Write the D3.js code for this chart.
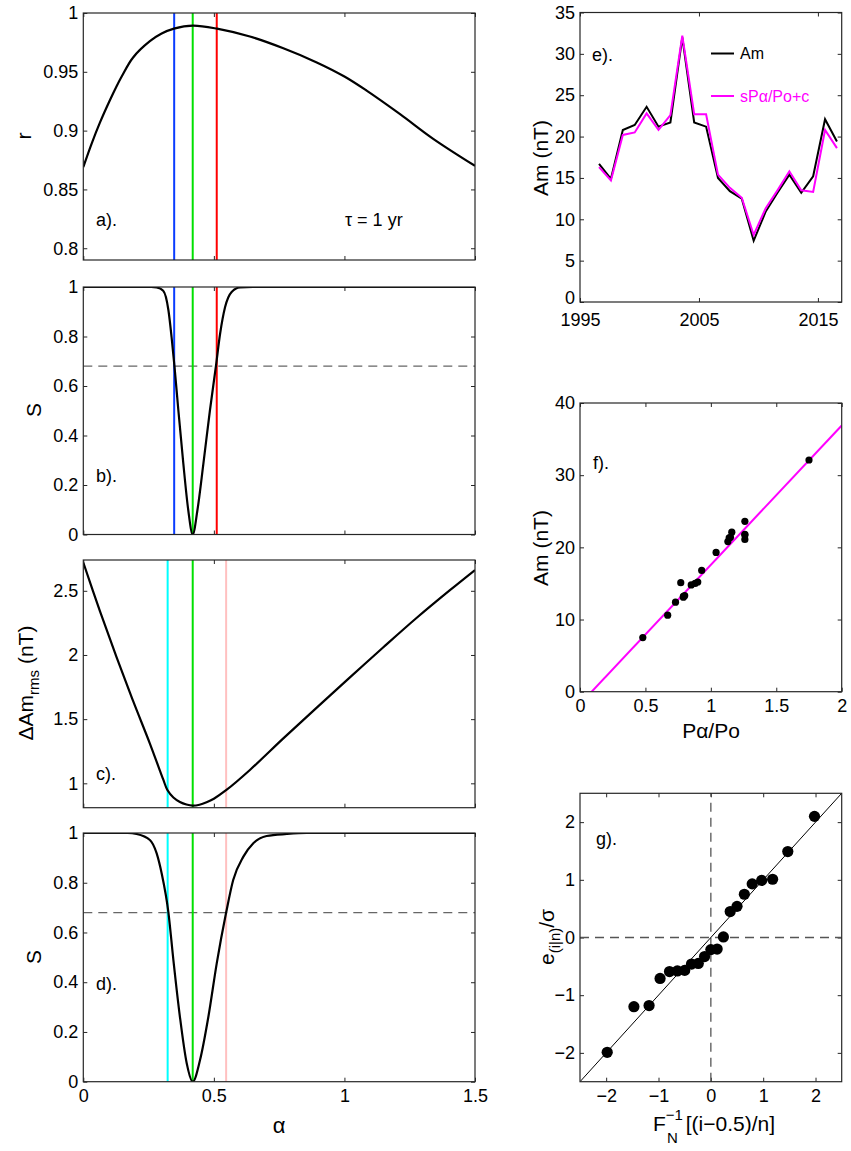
<!DOCTYPE html>
<html>
<head>
<meta charset="utf-8">
<script src="https://cdn.jsdelivr.net/npm/d3@7"></script>
<style>
  html, body { margin: 0; padding: 0; background: #fff; }
  svg { display: block; font-family: "Liberation Sans", Arial, sans-serif; }
</style>
</head>
<body>
<script>
// ---- a) correlation coefficient r versus coupling exponent alpha ----
const alphaR = [0, 0.032, 0.064, 0.1, 0.128, 0.147, 0.19, 0.255, 0.30, 0.347, 0.42, 0.512, 0.638, 0.766, 0.894, 1.0, 1.085, 1.213, 1.34, 1.5];
const rValues = [0.869, 0.889, 0.907, 0.925, 0.938, 0.946, 0.962, 0.976, 0.9825, 0.9867, 0.9893, 0.9867, 0.980, 0.970, 0.958, 0.946, 0.934, 0.914, 0.893, 0.870];

// ---- b) significance S of the r difference ----
const alphaSb = [0, 0.26, 0.281, 0.306, 0.326, 0.338, 0.349, 0.364, 0.383, 0.402, 0.419, 0.437, 0.46, 0.485, 0.508, 0.524, 0.543, 0.568, 0.6, 0.65, 1.5];
const sB = [1, 1, 0.998, 0.985, 0.906, 0.798, 0.681, 0.502, 0.287, 0.098, 0, 0.098, 0.287, 0.502, 0.681, 0.812, 0.919, 0.980, 0.998, 1, 1];

// ---- c) rms fit error versus alpha ----
const alphaDam = [0, 0.064, 0.128, 0.191, 0.255, 0.306, 0.322, 0.345, 0.37, 0.395, 0.419, 0.445, 0.472, 0.5, 0.548, 0.638, 0.766, 0.894, 1.021, 1.149, 1.277, 1.404, 1.5];
const dAm = [2.72, 2.34, 1.98, 1.64, 1.31, 1.03, 0.948, 0.89, 0.855, 0.835, 0.826, 0.833, 0.852, 0.88, 0.948, 1.104, 1.35, 1.59, 1.825, 2.06, 2.29, 2.505, 2.662];

// ---- d) significance S of the rms difference ----
const alphaSd = [0, 0.17, 0.204, 0.255, 0.281, 0.30, 0.326, 0.345, 0.37, 0.396, 0.419, 0.447, 0.479, 0.511, 0.547, 0.574, 0.613, 0.651, 0.702, 0.779, 0.855, 1.5];
const sD = [1, 1, 0.996, 0.972, 0.918, 0.838, 0.68, 0.489, 0.261, 0.074, 0, 0.087, 0.261, 0.476, 0.68, 0.811, 0.905, 0.959, 0.988, 0.996, 1, 1];

// optimum alpha and its uncertainty limits
const alphaBest = 0.419;
const alphaLimitsR = [0.348, 0.511];
const alphaLimitsRms = [0.323, 0.547];
const sigmaLevel = 0.68;

// ---- e) annual means ----
const years = [1996, 1997, 1998, 1999, 2000, 2001, 2002, 2003, 2004, 2005, 2006, 2007, 2008, 2009, 2010, 2011, 2012, 2013, 2014, 2015, 2016];
const amObs = [16.7, 14.9, 20.8, 21.4, 23.6, 21.2, 21.7, 32.0, 21.7, 21.2, 15.0, 13.4, 12.5, 7.4, 10.9, 13.2, 15.4, 13.2, 15.2, 22.1, 19.4];
const amFit = [16.3, 14.7, 20.2, 20.5, 22.8, 20.8, 22.6, 32.2, 22.7, 22.7, 15.4, 13.8, 12.6, 8.1, 11.3, 13.5, 15.8, 13.5, 13.3, 20.8, 18.6];

// ---- f) scatter of Am against normalised power input ----
const pRatio = [0.48, 0.67, 0.73, 0.77, 0.79, 0.80, 0.79, 0.85, 0.88, 0.90, 0.93, 1.04, 1.13, 1.14, 1.16, 1.15, 1.26, 1.26, 1.26, 1.26, 1.75];
const amScatter = [7.5, 10.6, 12.4, 15.1, 13.1, 13.3, 13.2, 14.8, 15.0, 15.2, 16.8, 19.3, 20.8, 21.3, 22.1, 21.4, 23.6, 21.8, 21.1, 21.7, 32.1];
const fitSlope = 19.3;
const fitIntercept = -1.72;

// ---- g) normal quantile plot of residuals ----
const qTheory = [-1.98, -1.47, -1.18, -0.97, -0.79, -0.64, -0.50, -0.37, -0.24, -0.12, 0, 0.12, 0.24, 0.37, 0.50, 0.64, 0.79, 0.97, 1.18, 1.47, 1.98];
const qResid = [-1.99, -1.20, -1.18, -0.71, -0.59, -0.58, -0.57, -0.46, -0.45, -0.33, -0.21, -0.20, 0.01, 0.45, 0.54, 0.75, 0.93, 0.99, 1.01, 1.49, 2.10];

// tick values
const alphaTicks = [0, 0.5, 1, 1.5];
const rTicks = [0.8, 0.85, 0.9, 0.95, 1];
const sTicks = [0, 0.2, 0.4, 0.6, 0.8, 1];
const dAmTicks = [1, 1.5, 2, 2.5];
const yearTicks = [1995, 2005, 2015];
const amTicks = [0, 5, 10, 15, 20, 25, 30, 35];
const pTicks = [0, 0.5, 1, 1.5, 2];
const amTicksF = [0, 10, 20, 30, 40];
const qTicks = [-2, -1, 0, 1, 2];

const W = 851, H = 1151;
const INK = "#262626";
const svg = d3.select("body").append("svg").attr("width", W).attr("height", H);

let clipCount = 0;
function panel(o) {
  const g = svg.append("g");
  const x = d3.scaleLinear().domain(o.xDomain).range([o.x0, o.x1]);
  const y = d3.scaleLinear().domain(o.yDomain).range([o.y1, o.y0]);
  const id = "clip" + (clipCount++);
  g.append("clipPath").attr("id", id).append("rect")
    .attr("x", o.x0).attr("y", o.y0).attr("width", o.x1 - o.x0).attr("height", o.y1 - o.y0);
  const fmt = d => d < 0 ? "\u2212" + Math.abs(d) : String(d);
  const tick = 4;
  const styleAxis = sel => {
    sel.select(".domain").remove();
    sel.selectAll(".tick line").attr("stroke", INK);
    sel.selectAll("text").attr("fill", "#000").attr("font-size", 18);
  };
  g.append("g").attr("transform", `translate(0,${o.y1})`)
    .call(d3.axisBottom(x).tickValues(o.xTicks).tickSize(-tick).tickSizeOuter(0).tickPadding(o.xPad || 8)
      .tickFormat(o.showX ? fmt : () => ""))
    .call(styleAxis);
  g.append("g").attr("transform", `translate(0,${o.y0})`)
    .call(d3.axisTop(x).tickValues(o.xTicks).tickSize(-tick).tickSizeOuter(0).tickFormat(() => ""))
    .call(styleAxis);
  const left = g.append("g").attr("transform", `translate(${o.x0},0)`)
    .call(d3.axisLeft(y).tickValues(o.yTicks).tickSize(-tick).tickSizeOuter(0).tickPadding(5).tickFormat(fmt))
    .call(styleAxis);
  if (o.lowLabelLift) {
    // lift the lowest y label a little so it clears the first year label
    left.selectAll(".tick text").filter(d => d === o.yDomain[0]).attr("dy", "0.1em");
  }
  g.append("g").attr("transform", `translate(${o.x1},0)`)
    .call(d3.axisRight(y).tickValues(o.yTicks).tickSize(-tick).tickSizeOuter(0).tickFormat(() => ""))
    .call(styleAxis);
  const plot = g.append("g").attr("clip-path", `url(#${id})`);
  const frame = () => g.append("rect")
    .attr("x", o.x0).attr("y", o.y0).attr("width", o.x1 - o.x0).attr("height", o.y1 - o.y0)
    .attr("fill", "none").attr("stroke", INK).attr("stroke-width", 1.2);
  return { g, x, y, plot, frame };
}

function curve(p, xs, ys, color, width, interp) {
  const line = d3.line().x(d => p.x(d[0])).y(d => p.y(d[1])).curve(interp || d3.curveMonotoneX);
  p.plot.append("path").datum(xs.map((v, i) => [v, ys[i]]))
    .attr("d", line).attr("fill", "none").attr("stroke", color)
    .attr("stroke-width", width).attr("stroke-linejoin", "round");
}
function vline(p, a, color) {
  p.plot.append("line").attr("x1", p.x(a)).attr("x2", p.x(a))
    .attr("y1", p.y.range()[0]).attr("y2", p.y.range()[1])
    .attr("stroke", color).attr("stroke-width", 2);
}
function hdash(p, v) {
  p.plot.append("line").attr("x1", p.x.range()[0]).attr("x2", p.x.range()[1])
    .attr("y1", p.y(v)).attr("y2", p.y(v))
    .attr("stroke", "#666").attr("stroke-width", 1.3).attr("stroke-dasharray", "9,6");
}
function label(x, y, txt, size, anchor) {
  return svg.append("text").attr("x", x).attr("y", y).attr("font-size", size || 18)
    .attr("text-anchor", anchor || "start").text(txt);
}
function ylabel(x, y, size) {
  return svg.append("text").attr("transform", `translate(${x},${y}) rotate(-90)`)
    .attr("text-anchor", "middle").attr("font-size", size || 21);
}

const LX0 = 83.3, LX1 = 475;
const BLUE = "#0a3cff", GREEN = "#00e000", RED = "#ff0000", CYAN = "#00ffff", PINK = "#ffc0c0";
const smooth = d3.curveCatmullRom.alpha(0.5);

// a)
const pa = panel({ x0: LX0, x1: LX1, y0: 13, y1: 260, xDomain: [0, 1.5], yDomain: [0.79, 1],
  xTicks: alphaTicks, yTicks: rTicks, showX: false });
vline(pa, alphaLimitsR[0], BLUE); vline(pa, alphaBest, GREEN); vline(pa, alphaLimitsR[1], RED);
curve(pa, alphaR, rValues, "#000", 2.2, smooth);
pa.frame();
label(96, 226, "a).");
label(345, 226, "\u03c4 = 1 yr");
ylabel(31, 136).text("r");

// b)
const pb = panel({ x0: LX0, x1: LX1, y0: 287, y1: 534.5, xDomain: [0, 1.5], yDomain: [0, 1],
  xTicks: alphaTicks, yTicks: sTicks, showX: false });
hdash(pb, sigmaLevel);
vline(pb, alphaLimitsR[0], BLUE); vline(pb, alphaBest, GREEN); vline(pb, alphaLimitsR[1], RED);
curve(pb, alphaSb, sB, "#000", 2.2);
pb.frame();
label(96, 482, "b).");
ylabel(41, 410).text("S");

// c)
const pc = panel({ x0: LX0, x1: LX1, y0: 560, y1: 807.7, xDomain: [0, 1.5], yDomain: [0.81, 2.74],
  xTicks: alphaTicks, yTicks: dAmTicks, showX: false });
vline(pc, alphaLimitsRms[0], CYAN); vline(pc, alphaBest, GREEN); vline(pc, alphaLimitsRms[1], PINK);
curve(pc, alphaDam, dAm, "#000", 2.2, smooth);
pc.frame();
label(96, 780, "c).");
{
  const t = ylabel(33, 683);
  t.append("tspan").text("\u0394Am");
  t.append("tspan").attr("font-size", 15).attr("dy", 6).text("rms");
  t.append("tspan").attr("dy", -6).text(" (nT)");
}

// d)
const pd = panel({ x0: LX0, x1: LX1, y0: 833, y1: 1081.7, xDomain: [0, 1.5], yDomain: [0, 1],
  xTicks: alphaTicks, yTicks: sTicks, showX: true });
hdash(pd, sigmaLevel);
vline(pd, alphaLimitsRms[0], CYAN); vline(pd, alphaBest, GREEN); vline(pd, alphaLimitsRms[1], PINK);
curve(pd, alphaSd, sD, "#000", 2.2);
pd.frame();
label(96, 990, "d).");
ylabel(41, 957).text("S");
label(279, 1133, "\u03b1", 22, "middle");

// e)
const RX0 = 580, RX1 = 841.7;
const pe = panel({ x0: RX0, x1: RX1, y0: 12.5, y1: 302, xDomain: [1995, 2017], yDomain: [0, 35],
  xTicks: yearTicks, yTicks: amTicks, showX: true, xPad: 11, lowLabelLift: true });
{
  const line = d3.line().x(d => pe.x(d[0] + 0.6)).y(d => pe.y(d[1]));
  pe.plot.append("path").datum(years.map((v, i) => [v, amObs[i]])).attr("d", line)
    .attr("fill", "none").attr("stroke", "#000").attr("stroke-width", 2);
  pe.plot.append("path").datum(years.map((v, i) => [v, amFit[i]])).attr("d", line)
    .attr("fill", "none").attr("stroke", "#ff00ff").attr("stroke-width", 2);
  // legend
  svg.append("line").attr("x1", 711).attr("x2", 734).attr("y1", 53.5).attr("y2", 53.5)
    .attr("stroke", "#000").attr("stroke-width", 2);
  label(740, 59, "Am", 16);
  svg.append("line").attr("x1", 711).attr("x2", 734).attr("y1", 96).attr("y2", 96)
    .attr("stroke", "#ff00ff").attr("stroke-width", 2);
  label(740, 101.5, "sP\u03b1/Po+c", 16).attr("fill", "#ff00ff");
}
pe.frame();
label(592, 61, "e).");
ylabel(548, 158).text("Am (nT)");

// f)
const pf = panel({ x0: RX0, x1: RX1, y0: 403, y1: 691.7, xDomain: [0, 2], yDomain: [0, 40],
  xTicks: pTicks, yTicks: amTicksF, showX: true });
{
  const xs = pf.x.domain();
  pf.plot.append("line")
    .attr("x1", pf.x(xs[0])).attr("y1", pf.y(fitSlope * xs[0] + fitIntercept))
    .attr("x2", pf.x(xs[1])).attr("y2", pf.y(fitSlope * xs[1] + fitIntercept))
    .attr("stroke", "#ff00ff").attr("stroke-width", 2);
  pf.plot.selectAll("circle.pt").data(pRatio.map((v, i) => [v, amScatter[i]])).enter()
    .append("circle").attr("class", "pt")
    .attr("cx", d => pf.x(d[0])).attr("cy", d => pf.y(d[1])).attr("r", 3.6).attr("fill", "#000");
}
pf.frame();
label(593, 469, "f).");
ylabel(548, 548).text("Am (nT)");
label(711, 738, "P\u03b1/Po", 21, "middle");

// g)
const pg = panel({ x0: RX0, x1: RX1, y0: 793.3, y1: 1081.7, xDomain: [-2.5, 2.5], yDomain: [-2.5, 2.5],
  xTicks: qTicks, yTicks: qTicks, showX: true });
{
  pg.plot.append("line").attr("x1", pg.x(0)).attr("x2", pg.x(0))
    .attr("y1", pg.y.range()[0]).attr("y2", pg.y.range()[1])
    .attr("stroke", "#555").attr("stroke-width", 1.3).attr("stroke-dasharray", "9,6");
  pg.plot.append("line").attr("x1", pg.x.range()[0]).attr("x2", pg.x.range()[1])
    .attr("y1", pg.y(0)).attr("y2", pg.y(0))
    .attr("stroke", "#555").attr("stroke-width", 1.3).attr("stroke-dasharray", "9,6");
  const d = pg.x.domain();
  pg.plot.append("line").attr("x1", pg.x(d[0])).attr("y1", pg.y(d[0]))
    .attr("x2", pg.x(d[1])).attr("y2", pg.y(d[1])).attr("stroke", "#000").attr("stroke-width", 1);
  pg.plot.selectAll("circle.q").data(qTheory.map((v, i) => [v, qResid[i]])).enter()
    .append("circle").attr("class", "q")
    .attr("cx", e => pg.x(e[0])).attr("cy", e => pg.y(e[1])).attr("r", 5.6).attr("fill", "#000");
}
pg.frame();
label(596, 845, "g).");
{
  const t = ylabel(554, 937);
  t.append("tspan").text("e");
  t.append("tspan").attr("font-size", 15).attr("dy", 6).text("(i|n)");
  t.append("tspan").attr("dy", -6).text("/\u03c3");
}
{
  const t = svg.append("text").attr("x", 714).attr("y", 1131).attr("font-size", 21).attr("text-anchor", "middle");
  t.append("tspan").text("F");
  t.append("tspan").attr("font-size", 15).attr("dy", -11).text("\u22121");
  t.append("tspan").attr("font-size", 15).attr("dx", -16).attr("dy", 23).text("N");
  t.append("tspan").attr("dx", 8).attr("dy", -12).text("[(i\u22120.5)/n]");
}
</script>
</body>
</html>
